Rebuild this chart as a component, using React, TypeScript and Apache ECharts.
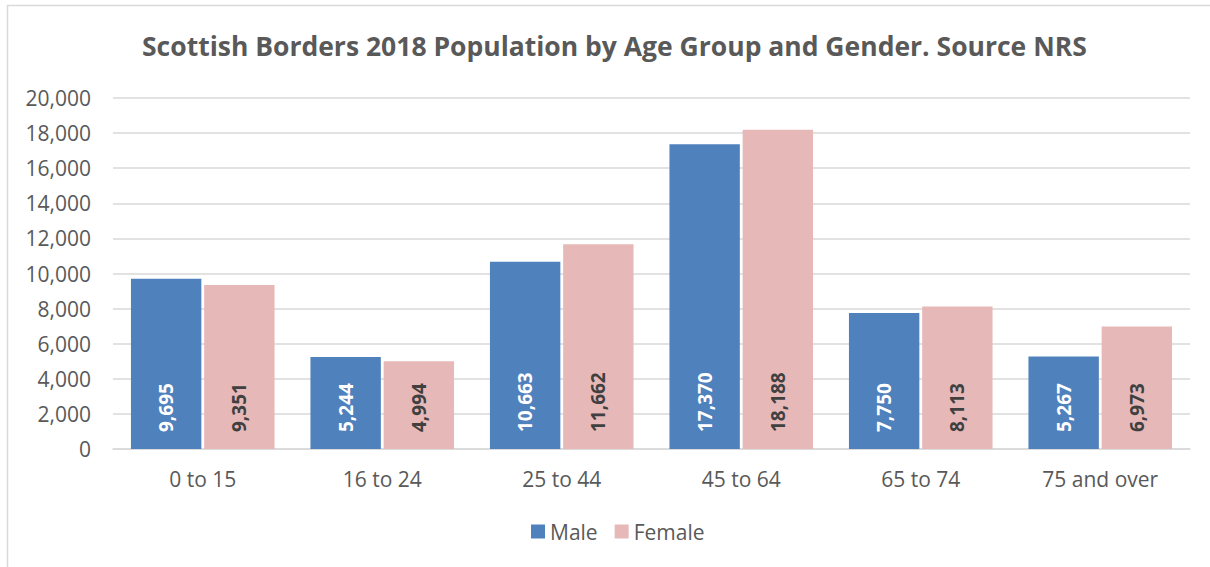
import React, { useEffect, useRef } from "react";
import * as echarts from "echarts";

const categories = ["0 to 15", "16 to 24", "25 to 44", "45 to 64", "65 to 74", "75 and over"];
const maleValues = [9695, 5244, 10663, 17370, 7750, 5267];
const femaleValues = [9351, 4994, 11662, 18188, 8113, 6973];
const titleText = "Scottish Borders 2018 Population by Age Group and Gender. Source NRS";

const FONT = "'Open Sans', 'Noto Sans', sans-serif";
const fmt = (v: number) => v.toLocaleString("en-US");

export default function App() {
  const ref = useRef<HTMLDivElement>(null);
  useEffect(() => {
    if (!ref.current) return;
    const chart = echarts.init(ref.current, undefined, { renderer: "svg" });
    chart.setOption({
      animation: false,
      backgroundColor: "#ffffff",
      textStyle: { fontFamily: FONT },
      title: {
        text: titleText,
        left: 137,
        top: 27,
        textStyle: { fontFamily: FONT, fontSize: 26.5, fontWeight: "bold", color: "#595959" },
      },
      graphic: [
        {
          type: "rect",
          shape: { x: 7.5, y: 5.5, width: 1220, height: 580 },
          style: { fill: "none", stroke: "#d9d9d9", lineWidth: 1.5 },
          silent: true,
        },
      ],
      legend: {
        bottom: 20,
        left: 526,
        itemWidth: 14,
        itemHeight: 14,
        itemGap: 17,
        icon: "rect",
        textStyle: { fontFamily: FONT, fontSize: 21, color: "#595959" },
        data: ["Male", "Female"],
      },
      grid: { left: 113, right: 20, top: 98, bottom: 118 },
      xAxis: {
        type: "category",
        data: categories,
        axisTick: { show: false },
        axisLine: { lineStyle: { color: "#d9d9d9", width: 1.5 } },
        axisLabel: { fontFamily: FONT, fontSize: 21, color: "#595959", margin: 19 },
      },
      yAxis: {
        type: "value",
        min: 0,
        max: 20000,
        interval: 2000,
        axisLine: { show: false },
        axisTick: { show: false },
        splitLine: { lineStyle: { color: "#d9d9d9", width: 1.5 } },
        axisLabel: { fontFamily: FONT, fontSize: 21, color: "#595959", margin: 22, formatter: (v: number) => fmt(v) },
      },
      series: [
        {
          name: "Male",
          type: "bar",
          data: maleValues,
          barGap: "4%",
          barCategoryGap: "20%",
          itemStyle: { color: "#4f81bd" },
          label: {
            show: true,
            position: "insideBottom",
            rotate: 90,
            align: "left",
            verticalAlign: "middle",
            distance: 17,
            fontFamily: FONT,
            fontSize: 19,
            fontWeight: "bold",
            color: "#ffffff",
            formatter: (p: any) => fmt(p.value),
          },
        },
        {
          name: "Female",
          type: "bar",
          data: femaleValues,
          itemStyle: { color: "#e6b9b8" },
          label: {
            show: true,
            position: "insideBottom",
            rotate: 90,
            align: "left",
            verticalAlign: "middle",
            distance: 17,
            fontFamily: FONT,
            fontSize: 19,
            fontWeight: "bold",
            color: "#404040",
            formatter: (p: any) => fmt(p.value),
          },
        },
      ],
    });
    return () => chart.dispose();
  }, []);
  return (
    <div
      ref={ref}
      style={{ position: "absolute", left: 0, top: 0, width: 1210, height: 567 }}
    />
  );
}
